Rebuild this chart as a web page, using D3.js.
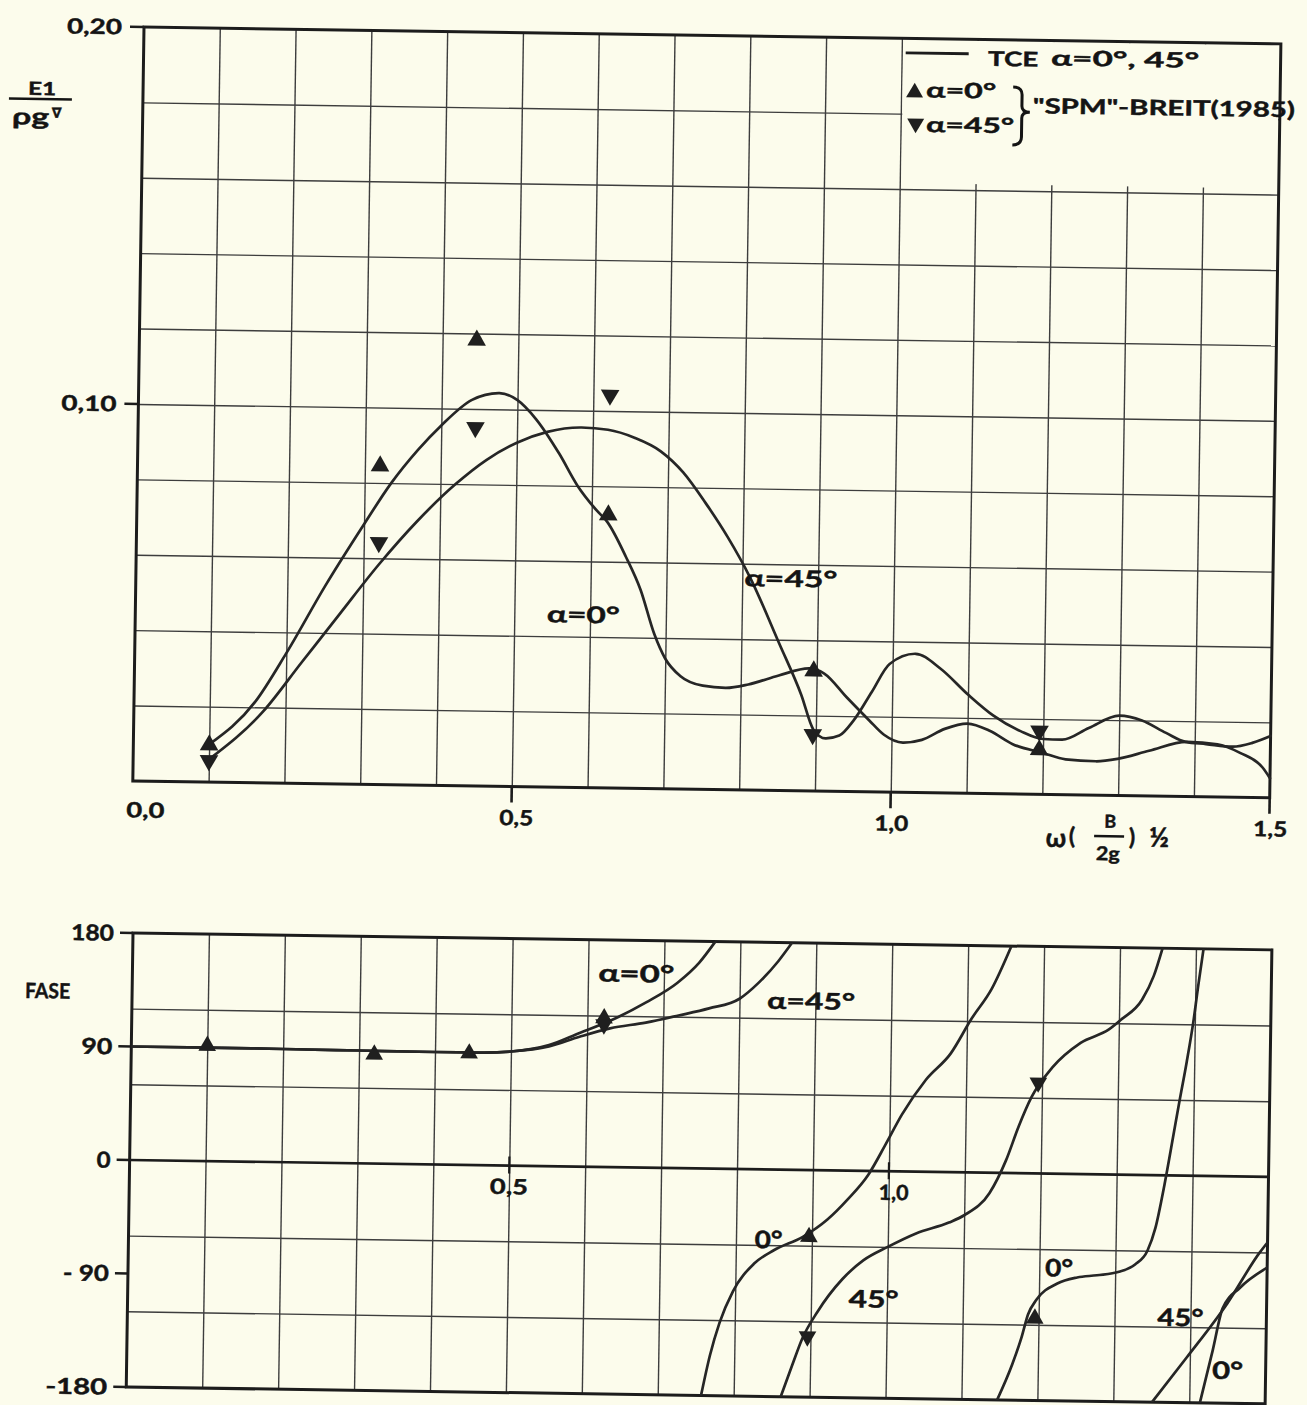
<!DOCTYPE html>
<html lang="pt">
<head>
<meta charset="utf-8">
<title>Força de deriva E1 – amplitude e fase</title>
<script src="https://cdn.jsdelivr.net/npm/d3@7"></script>
<style>
  html, body { margin: 0; padding: 0; background: #fcfcec; }
  svg { display: block; }
  text { font-family: Lato, "DejaVu Sans", sans-serif; font-weight: 700; fill: #141414;
         stroke: #141414; stroke-width: 0.45px; }
  .grid line { stroke: #3d3d3d; stroke-width: 1.4; }
  .frame { fill: none; stroke: #1c1c1c; stroke-width: 3; }
  .tick-mark { stroke: #1c1c1c; stroke-width: 2.6; }
  .tce { fill: none; stroke: #262626; stroke-width: 2.7; stroke-linejoin: round; stroke-linecap: round; }
  .mark { fill: #1f1f1f; }
</style>
</head>
<body>
<svg id="chart" width="1307" height="1405"></svg>
<script>
// ---------------------------------------------------------------
// Test points "SPM" – Breit (1985), at frequencies ω(B/2g)^½
const omegaMarks   = [0.10, 0.32, 0.445, 0.622, 0.896, 1.195];
// amplitude E1/(ρg∇): α = 0° (▲) and α = 45° (▼)
const ampMarks0    = [0.0098, 0.0845, 0.1182, 0.0724, 0.0318, 0.0118];
const ampMarks45   = [0.0057, 0.0642, 0.0951, 0.1042, 0.0150, 0.0168];
// phase in degrees (null: no test point)
const phaseMarks0  = [91.5, 86.5, 88.5, 118, -53, -115];
const phaseMarks45 = [null, null, null, 113, -132, 72];

// TCE amplitude curves, [ω, E1/(ρg∇)]
const tceAmp0 = [
  [0.100,0.0100],[0.160,0.0215],[0.200,0.0345],[0.250,0.0525],[0.300,0.0690],[0.335,0.0800],
  [0.370,0.0890],[0.400,0.0955],[0.440,0.1024],[0.476,0.1043],[0.500,0.1025],[0.525,0.0975],
  [0.556,0.0885],[0.581,0.0800],[0.606,0.0737],[0.621,0.0705],[0.646,0.0614],[0.666,0.0527],
  [0.685,0.0410],[0.700,0.0345],[0.720,0.0300],[0.750,0.0275],[0.780,0.0270],[0.810,0.0280],
  [0.850,0.0305],[0.890,0.0325],[0.910,0.0312],[0.940,0.0250],[0.970,0.0190],[0.990,0.0152],
  [1.015,0.0132],[1.040,0.0140],[1.070,0.0170],[1.100,0.0185],[1.130,0.0166],[1.160,0.0132],
  [1.200,0.0110],[1.230,0.0094],[1.270,0.0090],[1.300,0.0098],[1.340,0.0120],[1.390,0.0145],
  [1.430,0.0140],[1.460,0.0118],[1.490,0.0080],[1.500,0.0052]
];
const tceAmp45 = [
  [0.100,0.0060],[0.170,0.0188],[0.220,0.0320],[0.270,0.0452],[0.320,0.0583],[0.370,0.0700],
  [0.420,0.0800],[0.460,0.0865],[0.500,0.0912],[0.540,0.0942],[0.585,0.0955],[0.620,0.0950],
  [0.655,0.0930],[0.690,0.0895],[0.720,0.0840],[0.750,0.0760],[0.780,0.0670],[0.810,0.0565],
  [0.850,0.0390],[0.880,0.0255],[0.897,0.0162],[0.913,0.0140],[0.931,0.0148],[0.949,0.0187],
  [0.973,0.0265],[0.996,0.0340],[1.030,0.0368],[1.063,0.0330],[1.100,0.0262],[1.134,0.0207],
  [1.170,0.0167],[1.200,0.0147],[1.225,0.0146],[1.260,0.0178],[1.300,0.0212],[1.330,0.0200],
  [1.362,0.0168],[1.388,0.0145],[1.415,0.0140],[1.450,0.0134],[1.476,0.0145],[1.500,0.0164]
];

// TCE phase curves, one array per branch between the ±180° wraps, [ω, degrees]
const tcePhase0a = [
  [0,90],[0.10,90],[0.20,89.8],[0.30,89.5],[0.40,89.2],[0.46,89.3],[0.50,90.5],[0.55,96],
  [0.59,106],[0.63,116],[0.677,131],[0.718,147],[0.746,163],[0.767,180]
];
const tcePhase0b = [
  [0.757,-180],[0.768,-148],[0.780,-122],[0.797,-97],[0.824,-75],[0.850,-64],[0.888,-53],
  [0.920,-39],[0.946,-23],[0.973,-3],[0.995,21],[1.016,45],[1.047,73],[1.079,94],[1.106,122],
  [1.132,146],[1.157,180]
];
const tcePhase0c = [
  [1.147,-180],[1.166,-152],[1.178,-130],[1.186,-112],[1.197,-100],[1.224,-87],[1.250,-82],
  [1.276,-80],[1.305,-77],[1.326,-71],[1.342,-60],[1.352,-42],[1.363,-8],[1.374,32],[1.381,58],
  [1.390,90],[1.398,122],[1.404,152],[1.410,180]
];
const tcePhase0d = [
  [1.414,-180],[1.430,-138],[1.442,-105],[1.465,-88],[1.500,-72]
];
const tcePhase45a = [
  [0,90],[0.10,90],[0.20,89.8],[0.30,89.5],[0.40,89.2],[0.46,89.3],[0.50,90.5],[0.55,95],
  [0.59,103],[0.63,110],[0.677,115],[0.72,121],[0.76,127],[0.80,135],[0.825,148],[0.85,165],
  [0.868,180]
];
const tcePhase45b = [
  [0.862,-180],[0.877,-154],[0.889,-134],[0.909,-112],[0.941,-86],[0.968,-71],[1.000,-60],
  [1.037,-49],[1.080,-40],[1.100,-34],[1.133,-16],[1.154,10],[1.170,37],[1.186,60],[1.213,84],
  [1.250,104],[1.287,115],[1.303,123],[1.330,139],[1.345,158],[1.356,180]
];
const tcePhase45c = [
  [1.351,-180],[1.396,-144],[1.448,-101],[1.490,-60],[1.500,-52]
];

// axis ticks
const ampTicks       = [0.10, 0.20];
const omegaTicks     = [0.5, 1.0, 1.5];
const phaseTicks     = [180, 90, 0, -90, -180];
const phaseTickNames = ["180", "90", "0", "- 90", "-180"];

// ---------------------------------------------------------------
const svg = d3.select("#chart");
const TILT = 0.85;   // the drawing sheet sits slightly askew
const BG = "#fcfcec";

const panelA = { left: 144, top: 27,  width: 1137, height: 754 };
const panelB = { left: 133, top: 933, width: 1139, height: 454 };

const xA = d3.scaleLinear().domain([0, 1.5]).range([0, panelA.width]);
const yA = d3.scaleLinear().domain([0, 0.2]).range([panelA.height, 0]);
const xB = d3.scaleLinear().domain([0, 1.5]).range([0, panelB.width]);
const yB = d3.scaleLinear().domain([-180, 180]).range([panelB.height, 0]);

const gA = svg.append("g").attr("transform", `translate(${panelA.left},${panelA.top}) rotate(${TILT})`);
const gB = svg.append("g").attr("transform", `translate(${panelB.left},${panelB.top}) rotate(${TILT})`);

const comma = f => d => d3.format(f)(d).replace(".", ",");

function grid(g, x, y, w, h, xs, ys) {
  g.append("g").attr("class", "grid").attr("transform", `translate(0,${h})`)
    .call(d3.axisBottom(x).tickValues(xs).tickSize(-h).tickFormat(""))
    .call(s => s.select(".domain").remove());
  g.append("g").attr("class", "grid")
    .call(d3.axisLeft(y).tickValues(ys).tickSize(-w).tickFormat(""))
    .call(s => s.select(".domain").remove());
}

function txt(g, s, x, y, o = {}) {
  const t = g.append("text").attr("x", x).attr("y", y).attr("dy", o.dy || "0.36em")
    .attr("text-anchor", o.anchor || "middle").attr("font-size", o.size || 21).text(s);
  if (o.width) t.attr("textLength", o.width).attr("lengthAdjust", "spacingAndGlyphs");
  return t;
}

function tick(g, x1, y1, x2, y2, wdt) {
  g.append("line").attr("class", "tick-mark").attr("x1", x1).attr("y1", y1)
    .attr("x2", x2).attr("y2", y2).style("stroke-width", wdt || 2.6);
}

const triUp = d3.symbol().type(d3.symbolTriangle);

function marks(g, x, y, xs, ys, down, size) {
  const pts = xs.map((v, i) => [v, ys[i]]).filter(d => d[1] != null);
  g.append("g").selectAll("path").data(pts).join("path")
    .attr("class", "mark")
    .attr("d", triUp.size(size)())
    .attr("transform", d => `translate(${x(d[0])},${y(d[1])})${down ? " rotate(180)" : ""}`);
}

// ================= upper panel: amplitude =================
{
  const W = panelA.width, H = panelA.height;
  grid(gA, xA, yA, W, H, d3.range(1, 15).map(i => i / 10), d3.range(1, 10).map(i => i * 0.02));

  // cleared area under the key
  gA.append("rect").attr("x", xA(1.0) + 1.5).attr("y", 1.5)
    .attr("width", W - xA(1.0) - 3).attr("height", yA(0.162)).attr("fill", BG);

  gA.append("rect").attr("class", "frame").attr("width", W).attr("height", H);

  // vertical axis ticks and labels
  ampTicks.forEach(v => {
    tick(gA, -14, yA(v), 0, yA(v));
    txt(gA, comma(".2f")(v), -22, yA(v), { anchor: "end", size: 21, width: 55 });
  });

  // horizontal axis ticks and labels
  omegaTicks.forEach(v => tick(gA, xA(v), H, xA(v), H + 16));
  txt(gA, comma(".1f")(0), xA(0) + 13, H + 29, { size: 21, width: 38 });
  omegaTicks.forEach(v => txt(gA, comma(".1f")(v), xA(v) + (v === 0.5 ? 5 : 1), H + 31, { size: 21, width: 34 }));

  // ordinate name E1 / (ρg∇)
  txt(gA, "E1", -101, 63, { size: 18, width: 28 });
  gA.append("line").attr("x1", -134).attr("x2", -71).attr("y1", 73.5).attr("y2", 73.5)
    .attr("stroke", "#141414").attr("stroke-width", 2.6);
  txt(gA, "ρg", -112, 91, { size: 23, width: 37 });
  txt(gA, "∇", -86, 87, { size: 14 });

  // abscissa name ω (B/2g)^½
  txt(gA, "ω", 924, 797, { size: 26 });
  txt(gA, "(", 940, 795, { size: 23 });
  txt(gA, "B", 978, 780, { size: 18 });
  gA.append("line").attr("x1", 962).attr("x2", 992).attr("y1", 794.8).attr("y2", 794.8)
    .attr("stroke", "#141414").attr("stroke-width", 2.4);
  txt(gA, "2g", 976, 812, { size: 19, width: 24 });
  txt(gA, ")", 1000, 795, { size: 23 });
  txt(gA, "½", 1027, 795, { size: 27 });

  // TCE curves
  const line = d3.line().x(d => xA(d[0])).y(d => yA(d[1])).curve(d3.curveMonotoneX);
  gA.append("path").attr("class", "tce").attr("d", line(tceAmp0));
  gA.append("path").attr("class", "tce").attr("d", line(tceAmp45));

  // SPM points
  marks(gA, xA, yA, omegaMarks, ampMarks0, false, 150);
  marks(gA, xA, yA, omegaMarks, ampMarks45, true, 150);

  // curve names
  txt(gA, "α=0°", 448, 581, { size: 23, width: 73 });
  txt(gA, "α=45°", 655, 542, { size: 23, width: 93 });

  // key
  gA.append("line").attr("x1", 762).attr("x2", 825).attr("y1", 14.5).attr("y2", 14.5)
    .attr("stroke", "#1c1c1c").attr("stroke-width", 2.8);
  txt(gA, "TCE", 844.5, 19, { anchor: "start", size: 20, width: 50 });
  txt(gA, "α=0°, 45°", 907.5, 17.5, { anchor: "start", size: 21, width: 148 });
  gA.append("path").attr("class", "mark").attr("d", triUp.size(125)())
    .attr("transform", "translate(771.5,54)");
  txt(gA, "α=0°", 783, 51.3, { anchor: "start", size: 21, width: 70 });
  gA.append("path").attr("class", "mark").attr("d", triUp.size(125)())
    .attr("transform", "translate(773,85) rotate(180)");
  txt(gA, "α=45°", 783.5, 85.8, { anchor: "start", size: 21, width: 88 });
  gA.append("path")
    .attr("d", "M870,47 Q879,47 879,55 L879,66 Q879,72 887,72 Q879,72 879,78 L879,97 Q879,105 870,105")
    .attr("fill", "none").attr("stroke", "#141414").attr("stroke-width", 3);
  txt(gA, "\"SPM\"-BREIT(1985)", 890, 65.5, { anchor: "start", size: 21, width: 262 });
}

// ================= lower panel: phase =================
{
  const W = panelB.width, H = panelB.height;
  grid(gB, xB, yB, W, H, d3.range(1, 15).map(i => i / 10), [-120, -60, 60, 120]);

  gB.append("line").attr("x1", 0).attr("x2", W).attr("y1", yB(0)).attr("y2", yB(0))
    .attr("stroke", "#1c1c1c").attr("stroke-width", 2.6);
  gB.append("rect").attr("class", "frame").attr("width", W).attr("height", H);

  phaseTicks.forEach((v, i) => {
    tick(gB, -13, yB(v), 0, yB(v));
    txt(gB, phaseTickNames[i], -19, yB(v), { anchor: "end", size: 22,
      width: [43, 31, 14, 46, 62][i] });
  });
  txt(gB, "FASE", -62, 59, { anchor: "end", size: 21, width: 45 });

  [0.5, 1.0].forEach(v => {
    tick(gB, xB(v), yB(0) - 9, xB(v), yB(0) + 8, 2.2);
    txt(gB, comma(".1f")(v), xB(v) + (v === 1 ? 5 : 0), yB(0) + 21, { size: 21, width: v === 1 ? 30 : 38 });
  });

  const clipId = "phase-clip";
  gB.append("clipPath").attr("id", clipId)
    .append("rect").attr("width", W).attr("height", H);
  const curves = gB.append("g").attr("clip-path", `url(#${clipId})`);
  const line = d3.line().x(d => xB(d[0])).y(d => yB(d[1])).curve(d3.curveMonotoneX);
  [tcePhase0a, tcePhase0b, tcePhase0c, tcePhase0d, tcePhase45a, tcePhase45b, tcePhase45c]
    .forEach(b => curves.append("path").attr("class", "tce").attr("d", line(b)));

  marks(gB, xB, yB, omegaMarks, phaseMarks0, false, 135);
  marks(gB, xB, yB, omegaMarks, phaseMarks45, true, 135);

  txt(gB, "α=0°", 504, 33, { size: 24, width: 76 });
  txt(gB, "α=45°", 679, 58, { size: 23, width: 88 });
  txt(gB, "0°", 640, 297, { size: 24, width: 28 });
  txt(gB, "45°", 746, 355, { size: 24, width: 50 });
  txt(gB, "0°", 931, 321, { size: 24, width: 28 });
  txt(gB, "45°", 1053, 369, { size: 24, width: 46 });
  txt(gB, "0°", 1101, 421, { size: 24, width: 31 });
}
</script>
</body>
</html>
